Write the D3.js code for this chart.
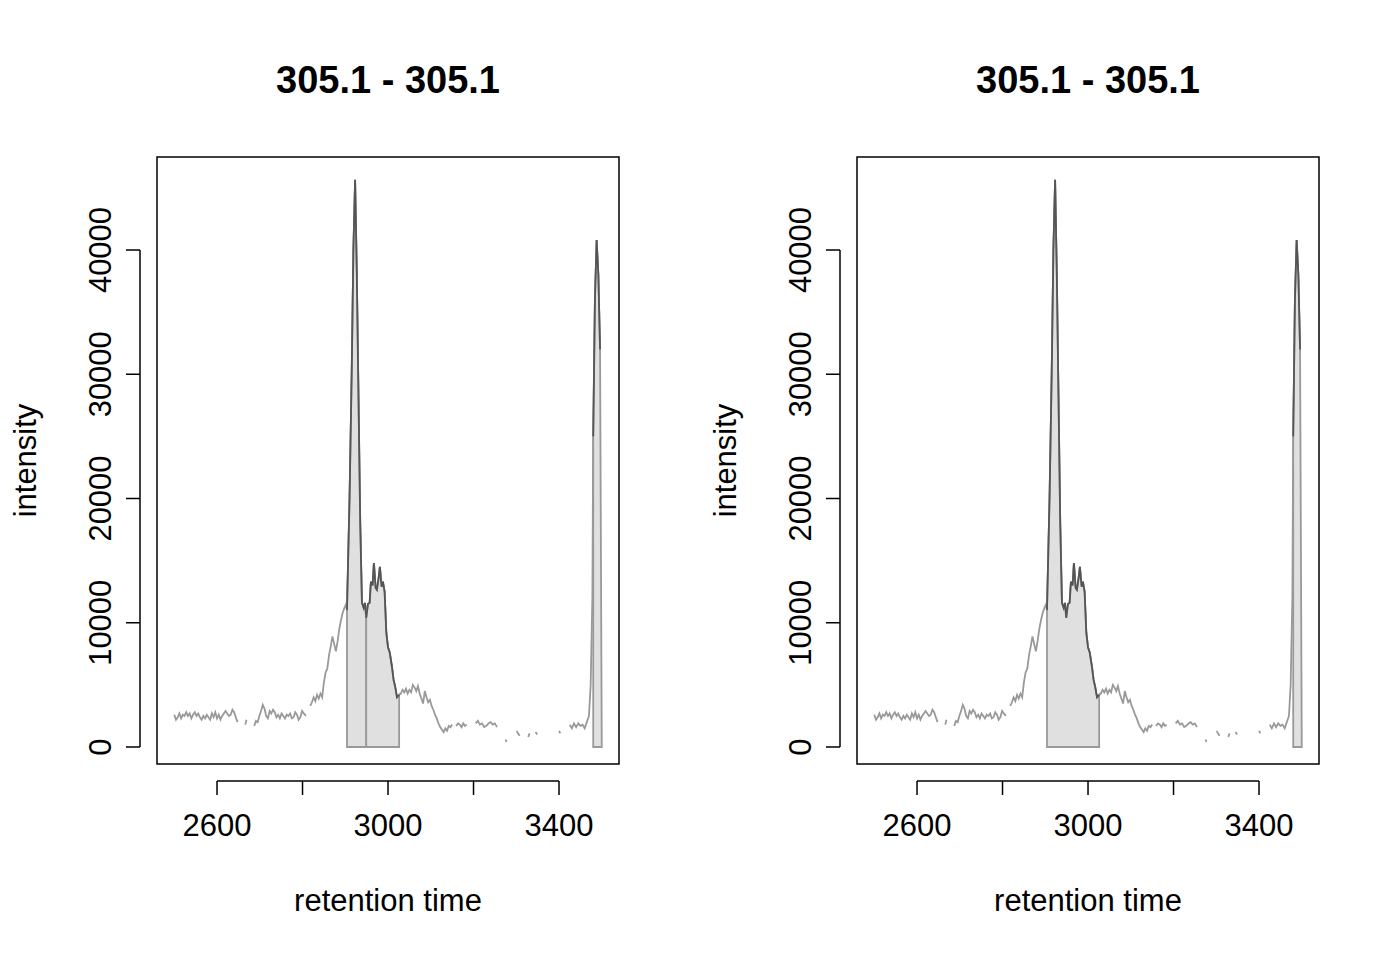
<!DOCTYPE html>
<html><head><meta charset="utf-8">
<script src="https://cdn.jsdelivr.net/npm/d3@7"></script>
<style>body{margin:0;background:#fff}text{font-family:"Liberation Sans",Arial,sans-serif}</style>
</head><body><svg id="c" width="1400" height="960"></svg>
<script>
// retention time / intensity (null = gap)
const rt = [2500,2504,2508,2512,2516,2520,2524,2528,2532,2536,2540,2544,2548,2552,2556,2560,2564,2568,2572,2576,2580,2584,2588,2592,2596,2600,2604,2608,2612,2616,2620,2624,2628,2632,2636,2640,2644,2648,
 2662,2666,2669,2676,
 2687,2691,2695,2699,2703,2707,2711,2715,2719,2723,2727,2731,2735,2739,2743,2747,2751,2755,2759,2763,2767,2771,2775,2779,2783,2787,2791,2795,2799,2803,2808,
 2814,2818,2822,2826,2830,2834,2838,2842,2846,2850,2854,2858,2862,2866,2870,2874,2878,2882,2886,2890,2894,2898,2902,2904,2910,2915,2919,2923,2927,2931,2935,2939,2943,2946,2949,2953,2957,2960,2964,2967,2971,2974,2978,2981,2985,2988,2992,2996,3000,3004,3009,3013,3017,3021,3026,
 3030,3034,3038,3042,3046,3050,3054,3058,3062,3066,3070,3074,3078,3082,3086,3090,3094,3098,3102,3106,3110,3114,3118,3122,3126,3130,3134,3138,3142,3146,3150,3152,
 3159,3164,3168,3172,3176,3180,3184,3190,
 3205,3210,3215,3220,3225,3230,3235,3240,3245,3250,3255,3262,
 3275,3277,3284,
 3301,3304,3308,3312,3328,3331,3342,3345,3349,3356,
 3400,3403,3422,3425,3430,3435,3440,3445,3450,3455,3460,3465,3470,3474,3478,3480,3484,3488,3492,3496,3498,3500];
const intensity = [2600,2200,2400,2700,2300,2600,2500,2800,2500,2700,2300,2600,2800,2500,2700,2400,2200,2500,2300,2600,2400,2200,2700,2400,2800,2300,2600,2200,2500,2700,2900,2700,2500,2600,3000,2800,2400,2000,
 null,1800,2200,null,
 1700,2100,2000,2500,2900,3400,3100,2500,2300,2900,2700,3000,2800,2400,2600,2300,2700,2500,2300,2600,2500,2700,2300,2400,2800,2600,2200,2400,2900,2700,2500,
 null,3300,3600,4000,3700,4200,3900,4300,4000,5200,6000,6300,7400,8100,8900,8300,7700,8500,9500,10200,10800,11200,11500,11000,20000,30000,40000,45660,38000,28000,18000,11600,11200,11600,10400,11500,11600,13300,13000,14800,12800,12650,13600,14500,12900,13300,12500,9200,8000,7600,6500,5400,4800,4000,
 4200,4300,4600,4400,4700,4300,4600,4400,5000,4800,4500,4900,4300,3900,3500,4500,4000,3600,3800,3300,3000,2600,2300,1900,1600,1400,1200,1500,1300,1700,1600,1800,
 null,1700,1900,1800,1600,1900,1700,1800,
 null,1900,2100,1800,1900,1600,1700,1900,2000,1800,1900,1600,
 null,600,400,
 null,1300,1100,900,null,800,1100,null,1200,1000,
 null,1300,1100,null,1800,1500,1900,1600,1900,1700,1800,1500,2000,2500,5000,12000,25000,36000,40800,38000,32000];
const panels = [
  {peakStart:[2904,2949,3480], peakEnd:[2949,3026,3500]},
  {peakStart:[2904,3480], peakEnd:[3026,3500]}
];
const title = "305.1 - 305.1";
const xTicks = [2600,2800,3000,3200,3400];
const xLabels = [2600,3000,3400];
const yTicks = [0,10000,20000,30000,40000];

const svg = d3.select("#c");
const pts = rt.map((t,i)=>({t, v:intensity[i]}));
panels.forEach((p,k)=>{
  const ox = k*700;
  const L=157+ox, R=619+ox, T=157, B=764;
  const x = d3.scaleLinear().domain([2459.6,3540.3]).range([L,R]);
  const y = d3.scaleLinear().domain([0,40000]).range([747,250]);
  const g = svg.append("g");
  const line = d3.line().defined(d=>d.v!=null).x(d=>x(d.t)).y(d=>y(d.v));
  g.append("path").attr("d",line(pts)).attr("fill","none").attr("stroke","#999").attr("stroke-width",1.8);
  p.peakStart.forEach((s,j)=>{
    const e = p.peakEnd[j];
    const sub = pts.filter(d=>d.t>=s && d.t<=e && d.v!=null);
    const poly = [{t:s,v:0},...sub,{t:e,v:0}];
    g.append("path").attr("d",d3.line().x(d=>x(d.t)).y(d=>y(d.v))(poly)+"Z")
      .attr("fill","#e0e0e0").attr("stroke","#999").attr("stroke-width",1.8);
    g.append("path").attr("d",line(sub)).attr("fill","none").attr("stroke","#555").attr("stroke-width",1.8);
  });
  g.append("rect").attr("x",L).attr("y",T).attr("width",R-L).attr("height",B-T).attr("fill","none").attr("stroke","#000").attr("stroke-width",1.5);
  const xa = g.append("g").attr("transform",`translate(0,${B+17})`);
  xa.append("line").attr("x1",x(xTicks[0])).attr("x2",x(xTicks[xTicks.length-1])).attr("stroke","#000").attr("stroke-width",1.5);
  xTicks.forEach(t=>xa.append("line").attr("x1",x(t)).attr("x2",x(t)).attr("y1",0).attr("y2",14).attr("stroke","#000").attr("stroke-width",1.5));
  xLabels.forEach(t=>xa.append("text").attr("x",x(t)).attr("y",55).attr("text-anchor","middle").attr("font-size",31).text(t));
  const ya = g.append("g").attr("transform",`translate(${L-17},0)`);
  ya.append("line").attr("y1",y(0)).attr("y2",y(40000)).attr("stroke","#000").attr("stroke-width",1.5);
  yTicks.forEach(t=>{
    ya.append("line").attr("y1",y(t)).attr("y2",y(t)).attr("x1",0).attr("x2",-14).attr("stroke","#000").attr("stroke-width",1.5);
    ya.append("text").attr("transform",`translate(-29,${y(t)}) rotate(-90)`).attr("text-anchor","middle").attr("font-size",31).text(t);
  });
  g.append("text").attr("x",(L+R)/2).attr("y",93).attr("text-anchor","middle").attr("font-size",38).attr("font-weight","bold").text(title);
  g.append("text").attr("x",(L+R)/2).attr("y",911).attr("text-anchor","middle").attr("font-size",31).text("retention time");
  g.append("text").attr("transform",`translate(${36+ox},${(T+B)/2}) rotate(-90)`).attr("text-anchor","middle").attr("font-size",31).text("intensity");
});
</script></body></html>
